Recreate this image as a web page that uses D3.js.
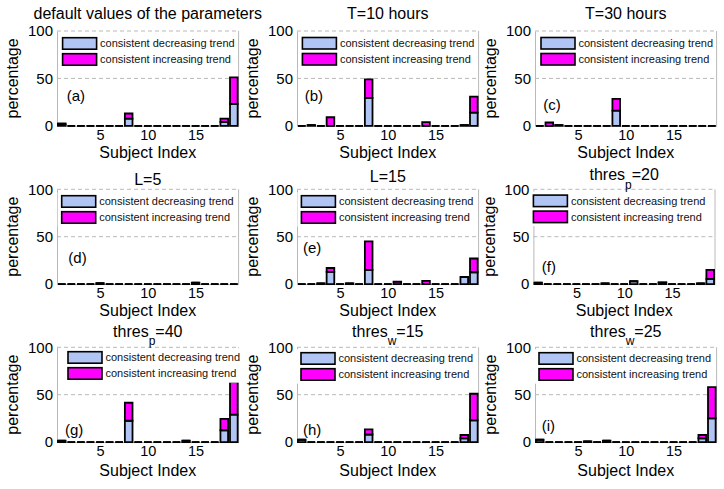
<!DOCTYPE html>
<html>
<head>
<meta charset="utf-8">
<script src="https://cdn.jsdelivr.net/npm/d3@7"></script>
<style>
  html, body { margin: 0; padding: 0; background: #fff; }
  svg { display: block; }
</style>
</head>
<body>
<svg id="chart" width="724" height="489"></svg>
<script>
// ---------------- DATA ----------------
const subjects = [1, 2, 3, 4, 5, 6, 7, 8, 9, 10, 11, 12, 13, 14, 15, 16, 17, 18, 19];
const seriesNames = ["consistent decreasing trend", "consistent increasing trend"];
const xTickValues = [5, 10, 15];
const yTickValues = [0, 50, 100];
const xLabel = "Subject Index";
const yLabel = "percentage";
const panelLabels = ["(a)", "(b)", "(c)", "(d)", "(e)", "(f)", "(g)", "(h)", "(i)"];
// "_x" marks a subscript
const titles = ["default values of the parameters", "T=10 hours", "T=30 hours",
                "L=5", "L=15", "thres_p=20",
                "thres_p=40", "thres_w=15", "thres_w=25"];

//               1    2    3    4    5    6    7    8     9   10   11   12   13   14   15   16   17   18    19
const dec_a = [1.5,   0,   0,   0,   0,   0,   0, 7.5,    0,   0,   0,   0,   0,   0,   0,   0,   0,   4,   23];
const inc_a = [1.0,   0,   0,   0,   0,   0,   0, 5.5,    0,   0,   0,   0,   0,   0,   0,   0,   0, 3.5,   28];
const dec_b = [  0, 0.8,   0,   0,   0,   0,   0, 29.5,   0,   0,   0,   0,   0,   0,   0,   0,   0, 0.8,   14];
const inc_b = [  0,   0,   0,   9,   0,   0,   0, 19.5,   0,   0,   0,   0,   0, 3.8,   0,   0,   0,   0, 16.7];
const dec_c = [  0,   0, 0.8,   0,   0,   0,   0,   0,   16,   0,   0,   0,   0,   0,   0,   0,   0,   0,    0];
const inc_c = [  0, 3.5,   0,   0,   0,   0,   0,   0, 12.5,   0,   0,   0,   0,   0,   0,   0,   0,   0,    0];
const dec_d = [  0,   0,   0,   0,   1,   0,   0,   0,    0,   0,   0,   0,   0,   0, 1.5,   0,   0,   0,    0];
const inc_d = [  0,   0,   0,   0,   0,   0,   0,   0,    0,   0,   0,   0,   0,   0,   0,   0,   0,   0,    0];
const dec_e = [  0,   0, 0.8,  13,   0, 0.8,   0,  15,    0,   0,   0,   0,   0,   0,   0,   0,   0, 7.5, 12.5];
const inc_e = [  0,   0,   0,   4,   0,   0,   0,  30,    0,   0, 2.5,   0,   0, 3.5,   0,   0,   0,   0, 14.5];
const dec_f = [1.5,   0,   0,   0,   0,   0,   0, 0.8,    0,   0,   3,   0,   0, 1.2,   0,   0,   0, 0.8,  5.5];
const inc_f = [  0,   0,   0,   0,   0,   0,   0,   0,    0,   0,   0,   0,   0, 0.8,   0,   0,   0,   0,  9.5];
const dec_g = [1.5,   0,   0,   0,   0,   0,   0, 22.5,   0,   0,   0,   0,   0, 1.5,   0,   0,   0, 12.5,  29];
const inc_g = [  0,   0,   0,   0,   0,   0,   0,  19,    0,   0,   0,   0,   0,   0,   0,   0,   0,  12, 34.5];
const dec_h = [2.5,   0,   0,   0,   0,   0,   0,   8,    0,   0,   0,   0,   0,   0,   0,   0,   0,   4,   23];
const inc_h = [  0,   0,   0,   0,   0,   0,   0, 5.5,    0,   0,   0,   0,   0,   0,   0,   0,   0, 3.5,   28];
const dec_i = [2.5,   0,   0,   0,   0, 0.8,   0, 1.5,    0,   0,   0,   0,   0,   0,   0,   0,   0,   4,   25];
const inc_i = [  0,   0,   0,   0,   0,   0,   0,   0,    0,   0,   0,   0,   0,   0,   0,   0,   0, 3.5,   33];

const decreasing = [dec_a, dec_b, dec_c, dec_d, dec_e, dec_f, dec_g, dec_h, dec_i];
const increasing = [inc_a, inc_b, inc_c, inc_d, inc_e, inc_f, inc_g, inc_h, inc_i];

// ---------------- LAYOUT / STYLE ----------------
const FONT = "'Liberation Sans', Arial, Helvetica, sans-serif";
const colors = ["#b1c5f5", "#ff00ff"];
const gridColor = "#b9b9b9";
const colX = [57, 297, 535];
const rowY = [31, 189.3, 347.3];
const plotW = 181.6;
const plotH = 94.8;
// per-panel fine offsets
const titleDy   = [-12.5, -12.5, -12.5, -4.3, -7.6, -9.3, -10.6, -10.6, -10.6];
const labelPos  = [[9.7, -25], [7.7, -25], [8.3, -15.5], [11.3, -20.6], [6, -30.6], [8.4, -12.3], [8, -6.7], [6, -7.4], [6.7, -10.7]];
const legendPos = [[5.6, 6.7], [5.4, 6.5], [6, 6.5], [4.7, 6.4], [4.4, 6.4], [0, 5.8], [11, 4.4], [4, 5.4], [4, 5.4]];
const xLabelDy  = [32, 32, 34];
const panelXAdj = [0, 0, 0, 0, 0, -1.6, 0, 0, 0];

const svg = d3.select("#chart");

function drawTitle(g, text, cx, by) {
  const t = g.append("text")
    .attr("x", cx).attr("y", by)
    .attr("text-anchor", "middle")
    .attr("font-family", FONT).attr("font-size", 16).attr("fill", "#000");
  const m = text.match(/^(.*)_(.)(.*)$/);
  if (m) {
    t.append("tspan").attr("fill", "#000").text(m[1]);
    t.append("tspan").attr("fill", "#000").attr("font-size", 12).attr("dy", 8.5).text(m[2]);
    t.append("tspan").attr("fill", "#000").attr("dy", -8.5).text(m[3]);
  } else {
    t.text(text);
  }
}

for (let i = 0; i < 9; i++) {
  const col = i % 3, row = Math.floor(i / 3);
  const px = colX[col] + panelXAdj[i], py = rowY[row];
  const g = svg.append("g").attr("transform", `translate(${px},${py})`);

  const x = d3.scaleLinear().domain([0.5, 19.5]).range([0, plotW]);
  const y = d3.scaleLinear().domain([0, 100]).range([plotH, 0]);

  // dashed grid lines
  g.selectAll("line.grid").data(yTickValues.filter(v => v > 0)).join("line")
    .attr("class", "grid")
    .attr("x1", 0).attr("x2", plotW)
    .attr("y1", d => y(d)).attr("y2", d => y(d))
    .attr("stroke", gridColor).attr("stroke-width", 1)
    .attr("stroke-dasharray", "4,3");
  // right edge of box
  g.append("line").attr("x1", plotW).attr("x2", plotW).attr("y1", 0).attr("y2", plotH)
    .attr("stroke", gridColor).attr("stroke-width", 1);

  // axes
  const ya = g.append("g")
    .call(d3.axisLeft(y).tickValues(yTickValues).tickSize(0).tickPadding(4));
  ya.attr("font-family", FONT).attr("font-size", 15);
  ya.select(".domain").attr("stroke", gridColor);
  ya.selectAll("text").attr("fill", "#000");

  const xa = g.append("g").attr("transform", `translate(0,${plotH})`)
    .call(d3.axisBottom(x).tickValues(xTickValues).tickSize(0).tickPadding(4));
  xa.attr("font-family", FONT).attr("font-size", 14.5);
  xa.select(".domain").attr("stroke", gridColor);
  xa.selectAll("text").attr("fill", "#000");

  // stacked bars
  const table = subjects.map((s, k) => ({ subject: s, dec: decreasing[i][k], inc: increasing[i][k] }));
  const stacked = d3.stack().keys(["dec", "inc"])(table);
  stacked.forEach((layer, li) => {
    g.append("g").selectAll("path").data(layer).join("path")
      .attr("d", d => {
        const x0 = x(d.data.subject - 0.4), x1 = x(d.data.subject + 0.4);
        const y0 = y(d[0]), y1 = y(d[1]);
        return `M${x0},${y0}H${x1}V${y1}H${x0}Z`;
      })
      .attr("fill", colors[li])
      .attr("stroke", "#000")
      .attr("stroke-width", 1.8)
      .attr("stroke-linejoin", "miter");
  });

  // legend
  const [lx, ly] = legendPos[i];
  const sw = 34, sh = 11.5, gap = 16;
  const leg = g.append("g").attr("transform", `translate(${lx},${ly})`);
  leg.append("rect").attr("x", -4).attr("y", -3.5)
    .attr("width", sw + 3.5 + 136 + 4).attr("height", sh + gap + 7)
    .attr("fill", "#fff");
  seriesNames.forEach((name, k) => {
    leg.append("rect").attr("x", 0).attr("y", k * gap)
      .attr("width", sw).attr("height", sh)
      .attr("fill", colors[k]).attr("stroke", "#000").attr("stroke-width", 1.6);
    leg.append("text").attr("x", sw + 3.5).attr("y", k * gap + sh / 2)
      .attr("dy", "0.35em")
      .attr("font-family", FONT).attr("font-size", 11).attr("fill", "#111")
      .text(name);
  });

  // panel label
  g.append("text").attr("x", labelPos[i][0]).attr("y", plotH + labelPos[i][1])
    .attr("font-family", FONT).attr("font-size", 15).attr("fill", "#000")
    .text(panelLabels[i]);

  // title
  drawTitle(g, titles[i], plotW / 2, titleDy[i]);

  // axis labels
  g.append("text").attr("x", plotW / 2).attr("y", plotH + xLabelDy[row])
    .attr("text-anchor", "middle")
    .attr("font-family", FONT).attr("font-size", 16).attr("fill", "#000")
    .text(xLabel);
  g.append("text")
    .attr("transform", `translate(${-38.7},${plotH / 2}) rotate(-90)`)
    .attr("text-anchor", "middle")
    .attr("font-family", FONT).attr("font-size", 16).attr("fill", "#000")
    .text(yLabel);
}
</script>
</body>
</html>
